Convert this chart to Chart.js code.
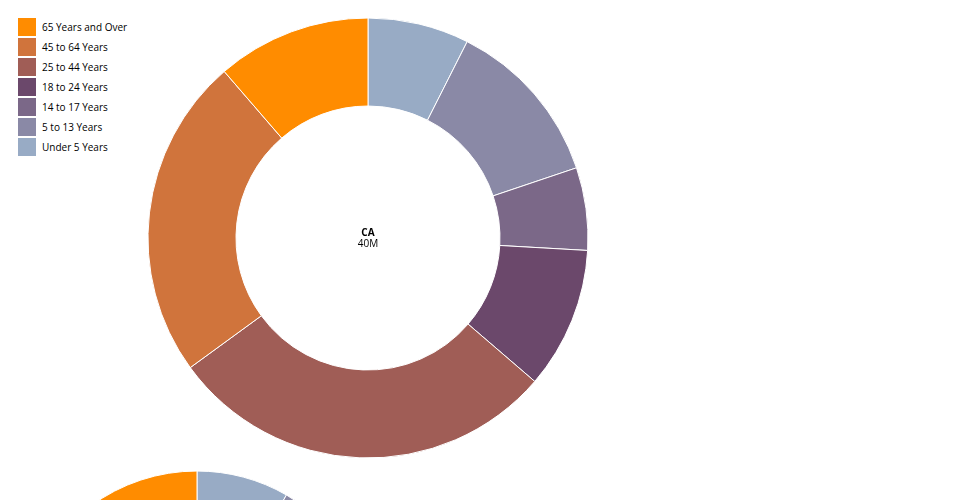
<!DOCTYPE html>
<html>
<head>
<meta charset="utf-8">
<script src="https://cdn.jsdelivr.net/npm/chart.js@4/dist/chart.umd.min.js"></script>
<style>
  html, body { margin: 0; padding: 0; width: 960px; height: 500px; overflow: hidden; background: #fff; }
  canvas { position: absolute; display: block; }
  #legend { position: absolute; left: 18px; top: 18px; font: 10px "Open Sans", sans-serif; color: #000; }
  .row { position: relative; height: 18px; margin-bottom: 2px; }
  .sw { position: absolute; left: 0; top: 0; width: 18px; height: 18px; }
  .lb { position: absolute; left: 24px; top: 0; line-height: 18px; white-space: nowrap; }
</style>
</head>
<body>
<div id="legend"></div>
<canvas id="ca" width="960" height="500" style="left:0;top:0;width:960px;height:500px"></canvas>
<canvas id="tx" width="400" height="400" style="left:0;top:450px;width:400px;height:400px"></canvas>
<script>
// Age groups (clockwise from 12 o'clock)
const ageGroups = ["Under 5 Years", "5 to 13 Years", "14 to 17 Years", "18 to 24 Years", "25 to 44 Years", "45 to 64 Years", "65 Years and Over"];
const colors = ["#98abc5", "#8a89a6", "#7b6888", "#6b486b", "#a05d56", "#d0743c", "#ff8c00"];
const states = ["CA", "TX"];
const caValues = [2736000, 4554000, 2231000, 3824000, 10537000, 8709000, 4166000];
const txValues = [2027000, 3278000, 1421000, 2455000, 7018000, 5657000, 2472000];

// Legend (reversed order)
const legend = document.getElementById('legend');
for (let i = ageGroups.length - 1; i >= 0; i--) {
  const row = document.createElement('div'); row.className = 'row';
  const sw = document.createElement('div'); sw.className = 'sw'; sw.style.background = colors[i];
  const lb = document.createElement('div'); lb.className = 'lb'; lb.textContent = ageGroups[i];
  row.appendChild(sw); row.appendChild(lb); legend.appendChild(row);
}

function fmt1s(v) {
  const units = [[1e9, 'G'], [1e6, 'M'], [1e3, 'k'], [1, '']];
  for (const [d, s] of units) {
    if (v >= d) {
      const x = v / d;
      const p = Math.pow(10, Math.floor(Math.log10(x)));
      return String(Math.round(x / p) * p) + s;
    }
  }
  return String(v);
}

const centerText = {
  id: 'centerText',
  afterDraw(chart, args, opts) {
    const meta = chart.getDatasetMeta(0);
    if (!meta.data.length) return;
    const { x, y } = meta.data[0];
    const ctx = chart.ctx;
    ctx.save();
    ctx.textAlign = 'center';
    ctx.textBaseline = 'middle';
    ctx.fillStyle = '#000';
    ctx.font = 'bold 10px "Open Sans", sans-serif';
    ctx.fillText(opts.title, x, y - 5);
    ctx.font = '10px "Open Sans", sans-serif';
    ctx.fillText(opts.sub, x, y + 6);
    ctx.restore();
  }
};

const sum = a => a.reduce((s, v) => s + v, 0);
const maxTotal = Math.max(sum(caValues), sum(txValues));
const maxRadius = 220;

function makeDonut(id, state, values, cx, cy, cw, ch) {
  const r = maxRadius * Math.sqrt(sum(values) / maxTotal);
  const half = r + 0.5; // account for 1px border spacing
  new Chart(document.getElementById(id), {
    type: 'doughnut',
    data: {
      labels: ageGroups,
      datasets: [{ data: values, backgroundColor: colors, borderColor: '#fff', borderWidth: 1 }]
    },
    options: {
      responsive: false,
      animation: false,
      cutout: '60%',
      layout: { padding: { left: cx - half, top: cy - half, right: cw - cx - half, bottom: ch - cy - half } },
      plugins: {
        legend: { display: false },
        tooltip: { enabled: false },
        centerText: { title: state, sub: fmt1s(sum(values)) }
      }
    },
    plugins: [centerText]
  });
}

makeDonut('ca', states[0], caValues, 368, 238, 960, 500);
makeDonut('tx', states[1], txValues, 197, 200, 400, 400);
</script>
</body>
</html>
